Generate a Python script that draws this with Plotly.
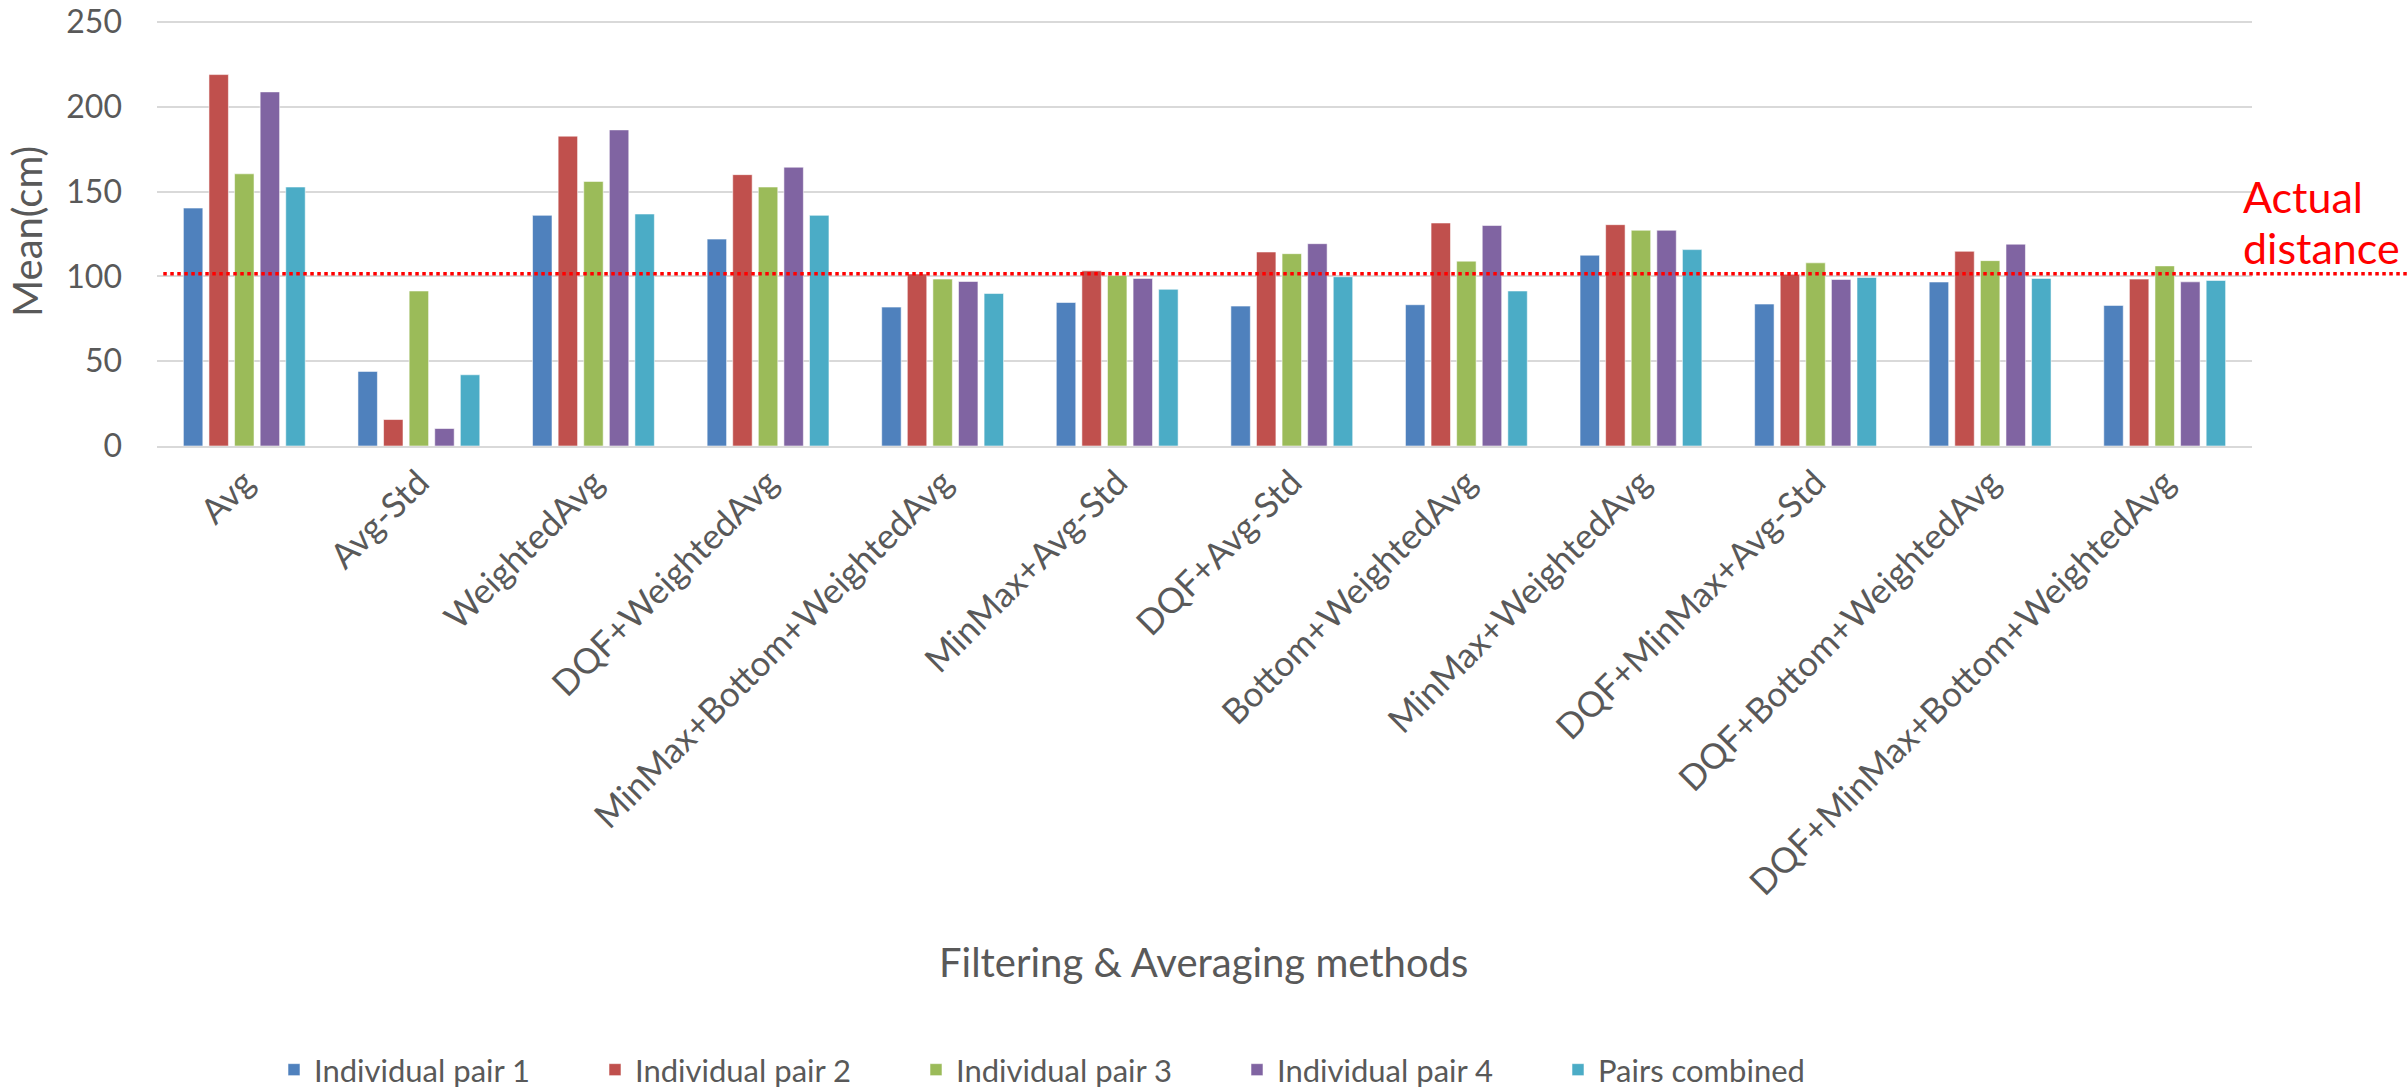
import plotly.graph_objects as go

# Filtering / averaging methods on the category axis
methods = [
    "Avg", "Avg-Std", "WeightedAvg", "DQF+WeightedAvg",
    "MinMax+Bottom+WeightedAvg", "MinMax+Avg-Std", "DQF+Avg-Std",
    "Bottom+WeightedAvg", "MinMax+WeightedAvg", "DQF+MinMax+Avg-Std",
    "DQF+Bottom+WeightedAvg", "DQF+MinMax+Bottom+WeightedAvg",
]

# Mean estimated distance (cm) per method
pair_1 = [140.3, 44.0, 136.0, 122.0, 81.9, 84.6, 82.5, 83.3, 112.5, 83.7, 96.7, 82.9]
pair_2 = [219.0, 15.6, 182.7, 160.0, 101.4, 103.3, 114.4, 131.5, 130.5, 101.2, 114.8, 98.4]
pair_3 = [160.5, 91.4, 156.0, 152.7, 98.4, 100.6, 113.4, 109.0, 127.2, 108.0, 109.3, 106.2]
pair_4 = [208.8, 10.3, 186.4, 164.4, 97.0, 98.8, 119.3, 130.0, 127.2, 98.2, 119.0, 96.8]
combined = [152.7, 42.0, 136.8, 136.0, 89.9, 92.4, 99.8, 91.4, 115.8, 99.4, 98.8, 97.6]

series_names = ["Individual pair 1", "Individual pair 2", "Individual pair 3",
                "Individual pair 4", "Pairs combined"]
series_values = [pair_1, pair_2, pair_3, pair_4, combined]
series_colors = ["#4F81BD", "#C0504D", "#9BBB59", "#8064A2", "#4BACC6"]

y_ticks = [0, 50, 100, 150, 200, 250]
actual_distance = 101.5
y_top = 250.6  # small headroom so the 250 gridline and label stay visible

FONT = "Lato"
TEXT = "#595959"
GRID = "#D9D9D9"

fig = go.Figure()
for name, vals, col in zip(series_names, series_values, series_colors):
    fig.add_trace(go.Bar(
        x=methods, y=vals, name=name,
        marker=dict(color=col, line=dict(color="rgba(255,255,255,0.55)", width=1)),
    ))

W, H = 2407, 1091
ML, MR, MT, MB = 157, 155, 21, 645

fig.update_layout(
    width=W, height=H, autosize=False,
    margin=dict(l=ML, r=MR, t=MT, b=MB, pad=0),
    paper_bgcolor="white", plot_bgcolor="white",
    font=dict(family=FONT, color=TEXT),
    barmode="group", bargap=0.267, bargroupgap=0.24,
    showlegend=True,
    legend=dict(
        orientation="h", xref="container", yref="container",
        x=274 / W, xanchor="left", y=1 - 1070 / H, yanchor="middle",
        font=dict(family=FONT, size=31, color=TEXT),
        entrywidth=276, entrywidthmode="pixels",
        traceorder="normal", bgcolor="rgba(0,0,0,0)",
    ),
)

fig.update_xaxes(
    type="category", tickangle=-45,
    tickfont=dict(family=FONT, size=35, color=TEXT),
    showline=True, linecolor=GRID, linewidth=2,
    showgrid=False, ticks="", automargin=False,
)
fig.update_yaxes(
    range=[0, y_top], tickmode="array", tickvals=y_ticks,
    tickfont=dict(family=FONT, size=32, color=TEXT),
    showgrid=True, gridcolor=GRID, gridwidth=2,
    zeroline=False, showline=False, ticks="",
    ticklabelstandoff=34, ticklabeloverflow="allow", automargin=False,
)

# Reference line at the actual distance, running past the plot area to the page edge
fig.add_shape(
    type="line", xref="paper", yref="paper",
    x0=0.003, x1=1.1, y0=actual_distance / y_top, y1=actual_distance / y_top,
    line=dict(color="#FF0000", width=3.5, dash="dot"),
)

plot_h = H - MT - MB
plot_w = W - ML - MR
label_x = (2241 - ML) / plot_w
fig.add_annotation(text="Actual", xref="paper", yref="paper",
                   x=label_x, y=(H - MB - 196) / plot_h, xanchor="left", yanchor="middle",
                   showarrow=False, font=dict(family=FONT, size=43, color="#FF0000"))
fig.add_annotation(text="distance", xref="paper", yref="paper",
                   x=label_x, y=(H - MB - 247) / plot_h, xanchor="left", yanchor="middle",
                   showarrow=False, font=dict(family=FONT, size=43, color="#FF0000"))

# Axis titles
fig.add_annotation(text="Filtering & Averaging methods", xref="paper", yref="paper",
                   x=(1203 - ML) / plot_w, y=(H - MB - 962) / plot_h,
                   xanchor="center", yanchor="middle", showarrow=False,
                   font=dict(family=FONT, size=40, color=TEXT))
fig.add_annotation(text="Mean(cm)", xref="paper", yref="paper",
                   x=(27 - ML) / plot_w, y=(H - MB - 232) / plot_h,
                   xanchor="center", yanchor="middle", textangle=-90, showarrow=False,
                   font=dict(family=FONT, size=40, color=TEXT))

fig.write_html("out.html")
